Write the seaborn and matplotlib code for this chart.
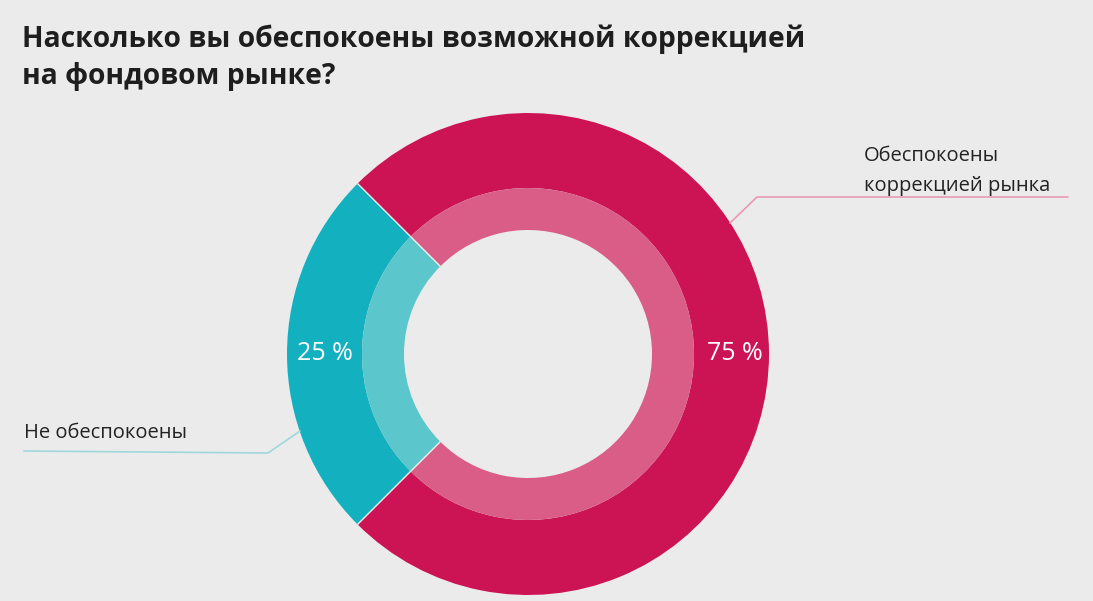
import matplotlib
matplotlib.use("Agg")
import matplotlib.pyplot as plt
import numpy as np
import seaborn as sns

sns.set_theme(style="white")
plt.rcParams['font.family'] = ['Open Sans', 'DejaVu Sans']

title = "Насколько вы обеспокоены возможной коррекцией\nна фондовом рынке?"
categories = ["Обеспокоены\nкоррекцией рынка", "Не обеспокоены"]
values = [75, 25]
value_labels = ["75 %", "25 %"]

bg = "#EBEBEB"
outer_colors = ["#CC1353", "#13B1BF"]
inner_colors = ["#D95D87", "#5CC6CD"]

W, H = 1093, 601
fig = plt.figure(figsize=(W / 100, H / 100), dpi=100, facecolor=bg)
ax = fig.add_axes([0, 0, 1, 1])
ax.set_facecolor(bg)

cx, cy = 528, H - 354
r_out, w_out = 241, 75
r_in, w_in = 166, 42
start = -135

wedges_o, _ = ax.pie(values, colors=outer_colors, startangle=start, counterclock=True,
                     center=(cx, cy), radius=r_out, frame=True,
                     wedgeprops=dict(width=w_out, linewidth=0))
wedges_i, _ = ax.pie(values, colors=inner_colors, startangle=start, counterclock=True,
                     center=(cx, cy), radius=r_in, frame=True,
                     wedgeprops=dict(width=w_in, linewidth=0))

# thin light separators between slices, at the slice boundaries
for w in wedges_o:
    ang = np.deg2rad(w.theta1)
    r0, r1 = r_in - w_in, r_out
    ax.plot([cx + r0 * np.cos(ang), cx + r1 * np.cos(ang)],
            [cy + r0 * np.sin(ang), cy + r1 * np.sin(ang)],
            color="#F0F0F0", lw=1.0, solid_capstyle="butt")

ax.set_xlim(0, W)
ax.set_ylim(0, H)
ax.set_aspect("equal")
ax.axis("off")

# value labels
ax.text(735, H - 354, value_labels[0], color="white", fontsize=18,
        ha="center", va="center")
ax.text(325, H - 354, value_labels[1], color="white", fontsize=18,
        ha="center", va="center")

# category labels with leader lines
ax.text(864, H - 171, categories[0], color="#222222", fontsize=14.5,
        ha="left", va="center", linespacing=1.65)
ax.plot([730, 757, 1068], [H - 223, H - 197, H - 197], color="#E89AB3", lw=1.2)

ax.text(24, H - 433, categories[1], color="#222222", fontsize=14.5,
        ha="left", va="center")
ax.plot([24, 268, 300], [H - 451, H - 453, H - 431], color="#9ED8DB", lw=1.2)

# title
fig.text(22 / W, 1 - 58 / H, title, fontsize=20.3, fontweight="bold",
         color="#1E1E1E", ha="left", va="center", linespacing=1.35)

fig.savefig("out.png", dpi=100, facecolor=bg)
